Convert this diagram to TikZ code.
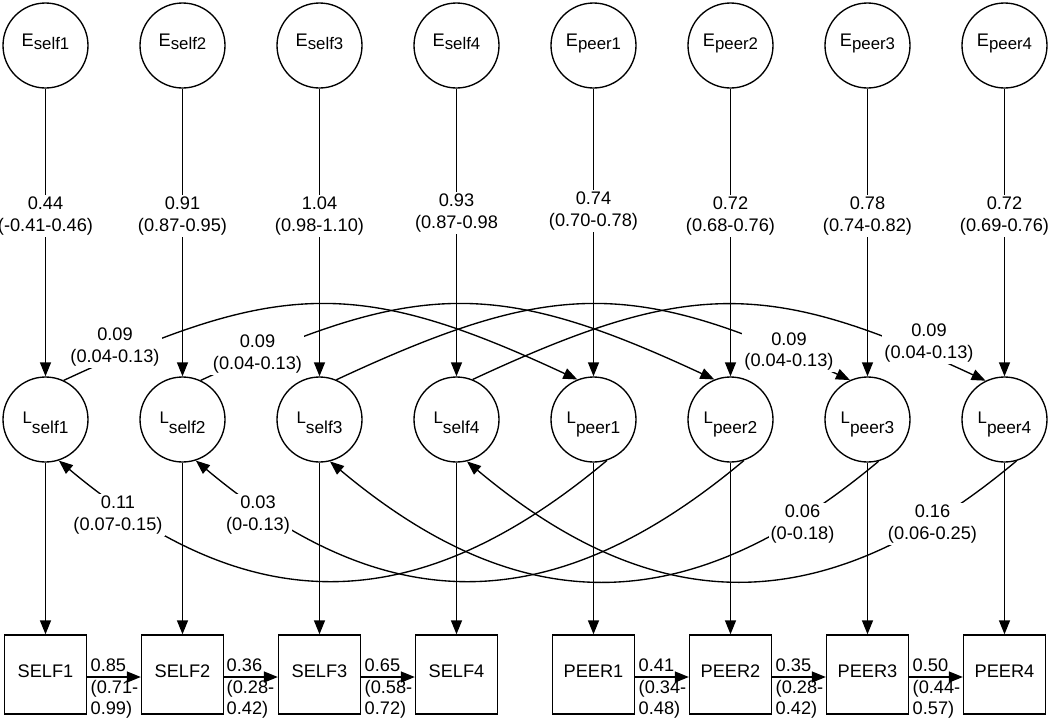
\documentclass[tikz,border=0pt]{standalone}
\usepackage{fontspec}
\setmainfont{Liberation Sans}
\usetikzlibrary{arrows.meta}
\newcommand{\Esub}[1]{E\raisebox{-3pt}{\fontsize{16.8}{18}\selectfont #1}}
\newcommand{\Lsub}[1]{{\fontsize{16.8}{18}\selectfont L}\raisebox{-10pt}{\fontsize{17.3}{18}\selectfont #1}}
\begin{document}
\begin{tikzpicture}[x=1pt,y=-1pt,
  every node/.style={font=\fontsize{18.2}{21.5}\selectfont},
  latent/.style={draw, circle, line width=1.35pt, minimum size=85pt, inner sep=0pt},
  errnode/.style={latent, text height=8pt, text depth=6pt},
  lnode/.style={latent, text height=10pt, text depth=3pt},
  obs/.style={draw, rectangle, line width=1.35pt, minimum width=82pt, minimum height=79pt, inner sep=0pt, text height=9pt, text depth=4pt},
  conn/.style={line width=1.35pt, -{Triangle[length=14pt,width=11pt]}},
  est/.style={fill=white, align=center, inner sep=2pt},
  pathlab/.style={align=left, anchor=north west, inner sep=0pt},
]
\useasboundingbox (0,0) rectangle (1050,718);
\fill[white] (0,0) rectangle (1050,718);

% latent and error nodes
\foreach \i/\t in {1/self1,2/self2,3/self3,4/self4,5/peer1,6/peer2,7/peer3,8/peer4}{
  \node[errnode] (E\i) at ({45.5+137*(\i-1)}, 45.5) {\Esub{\t}};
  \node[lnode] (L\i) at ({45.5+137*(\i-1)}, 419.5) {\Lsub{\t}};
}
% observed boxes
\foreach \i/\t in {1/SELF1,2/SELF2,3/SELF3,4/SELF4,5/PEER1,6/PEER2,7/PEER3,8/PEER4}{
  \node[obs] (B\i) at ({45.5+137*(\i-1)}, 674.5) {\t};
}

% E -> L loadings
\draw[conn] (E1) -- node[est, pos=0.443] (e1) {0.44\\(-0.41-0.46)} (L1);
\draw[conn] (E2) -- node[est, pos=0.443] (e2) {0.91\\(0.87-0.95)} (L2);
\draw[conn] (E3) -- node[est, pos=0.443] (e3) {1.04\\(0.98-1.10)} (L3);
\draw[conn] (E4) -- node[est, pos=0.432] (e4) {0.93\\(0.87-0.98} (L4);
\draw[conn] (E5) -- node[est, pos=0.425] (e5) {0.74\\(0.70-0.78)} (L5);
\draw[conn] (E6) -- node[est, pos=0.443] (e6) {0.72\\(0.68-0.76)} (L6);
\draw[conn] (E7) -- node[est, pos=0.443] (e7) {0.78\\(0.74-0.82)} (L7);
\draw[conn] (E8) -- node[est, pos=0.443] (e8) {0.72\\(0.69-0.76)} (L8);

% L -> observed
\foreach \i in {1,...,8}{
  \draw[conn] (L\i) -- (B\i);
}

% autoregressive paths
\draw[conn] ([yshift=-2.5pt]B1.east) -- ([yshift=-2.5pt]B2.west);
\draw[conn] ([yshift=-2.5pt]B2.east) -- ([yshift=-2.5pt]B3.west);
\draw[conn] ([yshift=-2.5pt]B3.east) -- ([yshift=-2.5pt]B4.west);
\draw[conn] ([yshift=-2.5pt]B5.east) -- ([yshift=-2.5pt]B6.west);
\draw[conn] ([yshift=-2.5pt]B6.east) -- ([yshift=-2.5pt]B7.west);
\draw[conn] ([yshift=-2.5pt]B7.east) -- ([yshift=-2.5pt]B8.west);
\node[pathlab] (a12) at (90.5,659) {0.85\\(0.71-\\0.99)};
\node[pathlab] (a23) at (226.5,659) {0.36\\(0.28-\\0.42)};
\node[pathlab] (a34) at (364.5,659) {0.65\\(0.58-\\0.72)};
\node[pathlab] (a56) at (638.5,659) {0.41\\(0.34-\\0.48)};
\node[pathlab] (a67) at (775.5,659) {0.35\\(0.28-\\0.42)};
\node[pathlab] (a78) at (912.5,659) {0.50\\(0.44-\\0.57)};

% upper cross paths (self -> peer)
\draw[conn] (L1.65) .. controls +(217,-101) and +(-217,-101) .. (L5.112);
\draw[conn] (L2.65) .. controls +(217,-101) and +(-217,-101) .. (L6.112);
\draw[conn] (L3.67) .. controls +(217,-101) and +(-217,-101) .. (L7.114);
\draw[conn] (L4.68) .. controls +(217,-101) and +(-217,-101) .. (L8.116);
\node[est] (u1) at (115,347) {0.09\\(0.04-0.13)};
\node[est] (u2) at (257.5,354) {0.09\\(0.04-0.13)};
\node[est] (u3) at (789,351.5) {0.09\\(0.04-0.13)};
\node[est] (u4) at (929,343) {0.09\\(0.04-0.13)};

% lower cross paths (peer -> self)
\draw[conn] (L5.-72) .. controls +(-191,160) and +(191,160) .. (L1.-72);
\draw[conn] (L6.-72) .. controls +(-191,160) and +(191,160) .. (L2.-72);
\draw[conn] (L7.-75) .. controls +(-191,160) and +(191,160) .. (L3.-76);
\draw[conn] (L8.-74) .. controls +(-191,160) and +(191,160) .. (L4.-76);
\node[est] (d1) at (118,515) {0.11\\(0.07-0.15)};
\node[est] (d2) at (258,515) {0.03\\(0-0.13)};
\node[est] (d3) at (802.5,524) {0.06\\(0-0.18)};
\node[est] (d4) at (932.5,524) {0.16\\(0.06-0.25)};
\end{tikzpicture}
\end{document}
